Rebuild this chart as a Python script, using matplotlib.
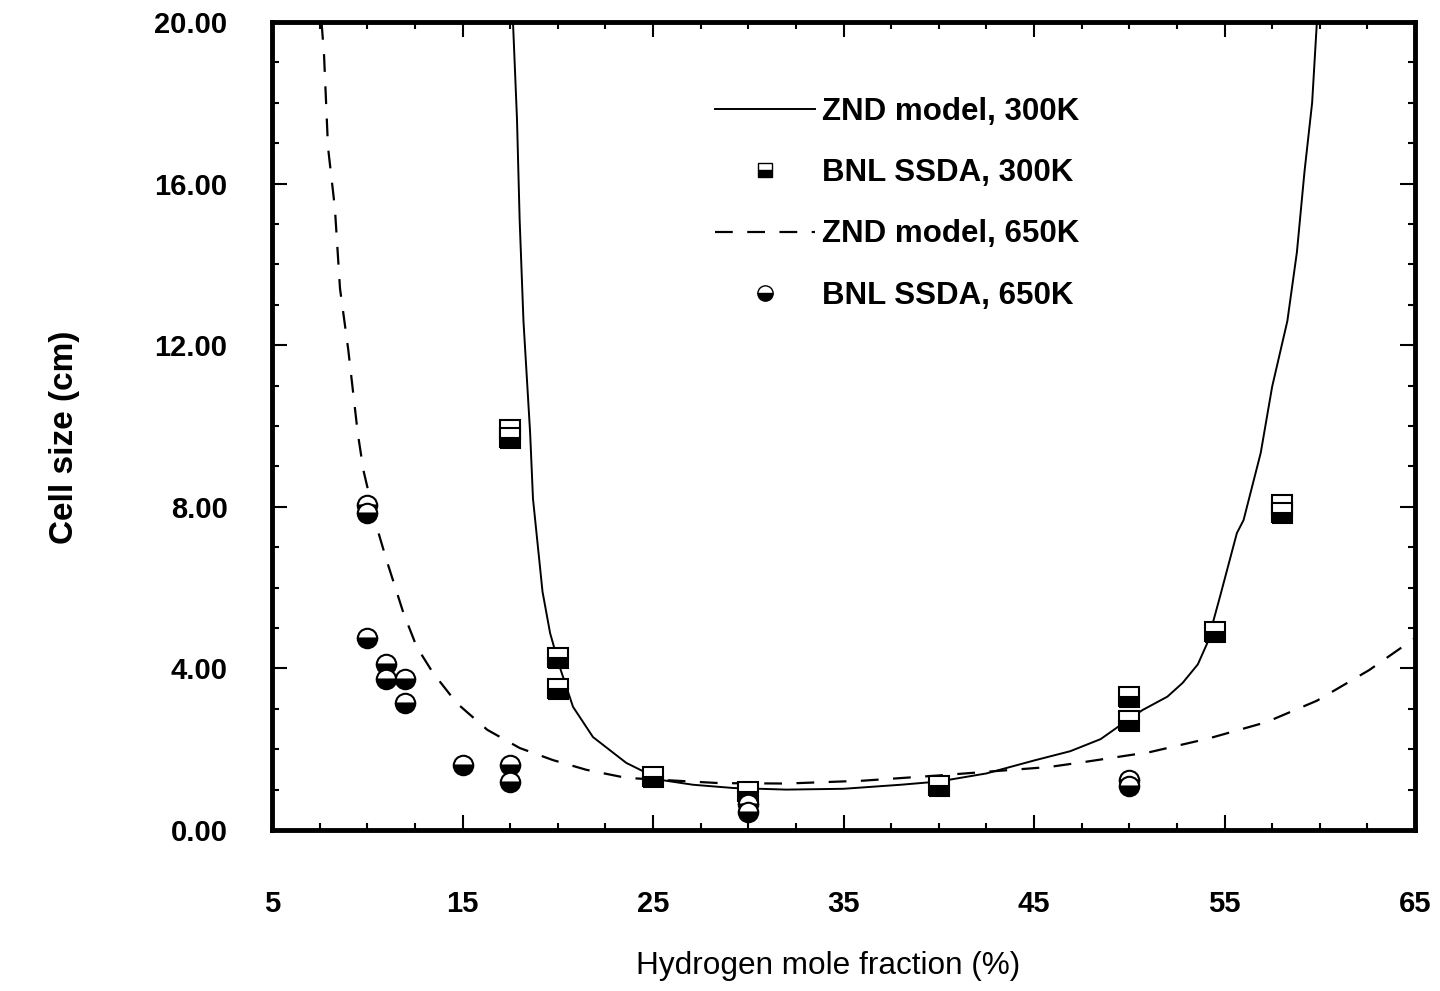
import matplotlib
matplotlib.use("Agg")
import matplotlib.pyplot as plt
from matplotlib.ticker import MultipleLocator, FixedLocator, FormatStrFormatter
from matplotlib.lines import Line2D

plt.rcParams['font.family'] = ['Liberation Sans', 'DejaVu Sans']

# ZND model, 300K (solid curve)
znd300_x = [17.65, 17.86, 18.0, 18.2, 18.55, 18.7, 19.2, 19.6, 20.1, 20.8, 21.85,
            23.6, 25.4, 27.1, 29.2, 32.0, 35.0, 38.0, 40.0, 42.5, 45.0, 46.9, 48.5,
            49.7, 50.7, 52.0, 52.8, 53.6, 54.1, 54.76, 55.65, 56.0, 56.9, 57.5, 58.3, 58.8,
            59.2, 59.6, 59.85]
znd300_y = [20.0, 17.6, 15.1, 12.6, 9.83, 8.2, 5.9, 4.87, 4.04, 3.05, 2.3,
            1.66, 1.24, 1.12, 1.04, 1.0, 1.02, 1.12, 1.2, 1.4, 1.72, 1.95, 2.25,
            2.65, 2.97, 3.3, 3.64, 4.1, 4.63, 5.77, 7.35, 7.67, 9.33, 10.97, 12.6, 14.3,
            16.3, 18.0, 20.0]

# ZND model, 650K (dashed curve)
znd650_x = [7.6, 7.73, 7.94, 8.3, 8.57, 9.0, 9.5, 9.8, 10.5, 11.0, 11.9, 12.6,
            13.45, 14.7, 16.3, 18.0, 19.75, 21.5, 23.6, 28.5, 32.0, 36.0, 40.0,
            45.8, 47.6, 51.1, 54.2, 57.2, 59.85, 62.6, 65.0]
znd650_y = [20.0, 19.2, 16.9, 15.4, 13.4, 11.9, 9.83, 8.9, 7.5, 6.7, 5.37, 4.53,
            3.89, 3.14, 2.48, 2.03, 1.73, 1.49, 1.29, 1.16, 1.15, 1.22, 1.35,
            1.56, 1.68, 1.93, 2.27, 2.67, 3.2, 3.96, 4.75]

# BNL SSDA, 300K (squares)
bnl300_x = [17.5, 17.5, 20.0, 20.0, 25.0, 30.0, 40.0, 50.0, 50.0, 54.5, 58.0, 58.0]
bnl300_y = [9.9, 9.7, 4.25, 3.5, 1.3, 0.95, 1.1, 3.3, 2.7, 4.9, 8.05, 7.85]

# BNL SSDA, 650K (circles)
bnl650_x = [10.0, 10.0, 10.0, 11.0, 11.0, 12.0, 12.0, 15.0, 17.5, 17.5, 30.0, 30.0, 50.0, 50.0]
bnl650_y = [8.05, 7.85, 4.75, 4.1, 3.75, 3.75, 3.15, 1.6, 1.6, 1.2, 0.65, 0.45, 1.25, 1.1]

x_ticks = [5, 15, 25, 35, 45, 55, 65]
y_ticks = [0, 4, 8, 12, 16, 20]

labels = ["ZND model, 300K", "BNL SSDA, 300K", "ZND model, 650K", "BNL SSDA, 650K"]

fig = plt.figure(figsize=(14.4, 9.91), dpi=100)
ax = fig.add_axes([272/1440, 1-830/991, (1415-272)/1440, (830-22)/991])

ax.plot(znd300_x, znd300_y, color='black', lw=1.4, solid_joinstyle='round')
dl, = ax.plot(znd650_x, znd650_y, color='black', lw=1.6)
dl.set_dashes((8, 6.5))

mk = dict(linestyle='none', markeredgecolor='black', markerfacecolor='black',
          markerfacecoloralt='white', fillstyle='bottom', markeredgewidth=1.5)
ax.plot(bnl300_x, bnl300_y, marker='s', markersize=14, **mk)
ax.plot(bnl650_x, bnl650_y, marker='o', markersize=14, **mk)

ax.set_xlim(5, 65)
ax.set_ylim(0, 20)
ax.xaxis.set_major_locator(FixedLocator(x_ticks))
ax.xaxis.set_minor_locator(MultipleLocator(2.5))
ax.yaxis.set_major_locator(FixedLocator(y_ticks))
ax.yaxis.set_minor_locator(MultipleLocator(1))
ax.yaxis.set_major_formatter(FormatStrFormatter('%.2f'))

ax.tick_params(which='both', direction='in', top=True, right=True, width=1.5)
ax.tick_params(which='major', length=11)
ax.tick_params(which='minor', length=5)
ax.tick_params(axis='x', which='major', pad=43, labelsize=21)
ax.tick_params(axis='y', which='major', pad=32, labelsize=21)
for t in ax.get_xticklabels() + ax.get_yticklabels():
    t.set_fontweight('bold')

for s in ax.spines.values():
    s.set_linewidth(3.5)

ax.set_xlabel("Hydrogen mole fraction (%)", fontsize=22.7)
ax.set_ylabel("Cell size (cm)", fontsize=24, fontweight='bold')
ax.xaxis.set_label_coords((828-272)/1143, (830-966)/808)
ax.xaxis.label.set_verticalalignment('center')
ax.yaxis.set_label_coords((64-272)/1143, (830-437)/808)
ax.yaxis.label.set_verticalalignment('center')

handles = [
    Line2D([], [], color='black', lw=1.4),
    Line2D([], [], marker='s', markersize=10, linestyle='none', markeredgecolor='black',
           markerfacecolor='black', markerfacecoloralt='white', fillstyle='bottom'),
    Line2D([], [], color='black', lw=1.6, dashes=(8, 6.5)),
    Line2D([], [], marker='o', markersize=11, linestyle='none', markeredgecolor='black',
           markerfacecolor='black', markerfacecoloralt='white', fillstyle='bottom'),
]
leg = ax.legend(handles, labels, loc='upper left', bbox_to_anchor=((715-272)/1143, (830-97)/808),
                frameon=False, handlelength=3.2, handletextpad=0.22,
                labelspacing=1.0, borderpad=0, borderaxespad=0,
                prop={'weight': 'bold', 'size': 22.5})

fig.savefig("out.png", dpi=100)
